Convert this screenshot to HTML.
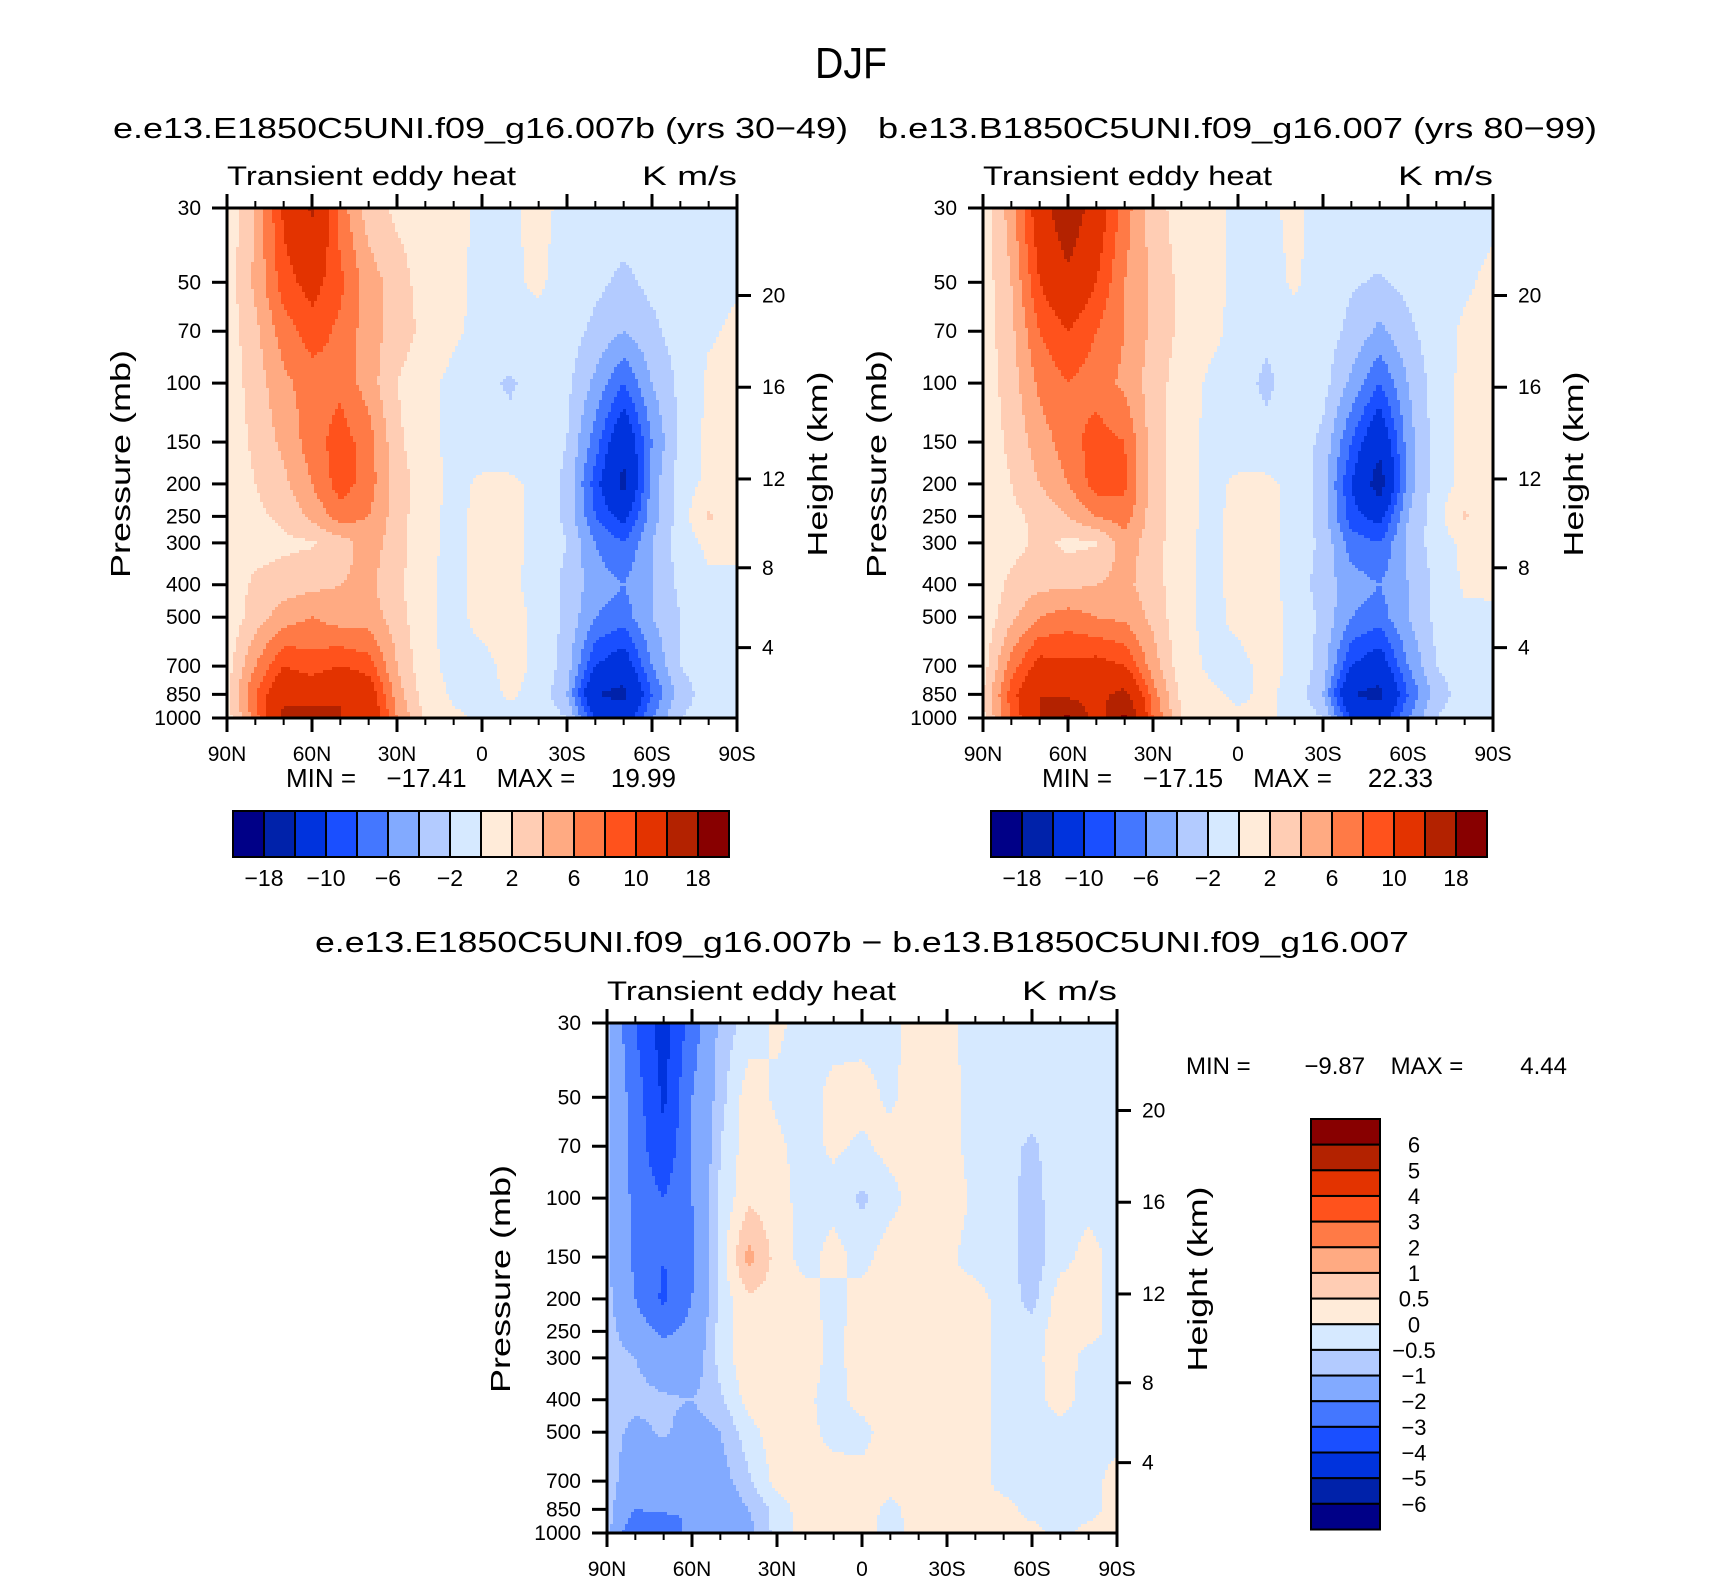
<!DOCTYPE html>
<html><head><meta charset="utf-8"><title>DJF Transient eddy heat</title>
<style>
html,body{margin:0;padding:0;background:#fff;}
svg{display:block;font-family:"Liberation Sans",sans-serif;}
</style></head>
<body>
<svg id="fig" width="1710" height="1581" viewBox="0 0 1710 1581" xmlns="http://www.w3.org/2000/svg">
<rect x="0" y="0" width="1710" height="1581" fill="#fff"/>
<text x="851" y="78" font-size="44" text-anchor="middle" textLength="72" lengthAdjust="spacingAndGlyphs">DJF</text>
<text x="113" y="138" font-size="29" textLength="735" lengthAdjust="spacingAndGlyphs">e.e13.E1850C5UNI.f09_g16.007b (yrs 30−49)</text>
<text x="878" y="138" font-size="29" textLength="719" lengthAdjust="spacingAndGlyphs">b.e13.B1850C5UNI.f09_g16.007 (yrs 80−99)</text>
<text x="315" y="952" font-size="29" textLength="1094" lengthAdjust="spacingAndGlyphs">e.e13.E1850C5UNI.f09_g16.007b − b.e13.B1850C5UNI.f09_g16.007</text>
<g id="panels"></g>
</svg>
<script>
// ---- data ----
const LEV = [30,50,70,100,150,200,250,300,400,500,700,850,1000];
const LATS = [90,80,70,60,50,40,30,20,10,0,-10,-20,-30,-40,-50,-60,-70,-80,-90];
const LAT_LABELS = ["90N","60N","30N","0","30S","60S","90S"];
const LAT_TICKS = [90,60,30,0,-30,-60,-90];
const P_LABELS = [30,50,70,100,150,200,250,300,400,500,700,850,1000];
const Z_LABELS = [4,8,12,16,20];
const COLORS = ["#000087","#0022aa","#0033dd","#1a4fff","#4477ff","#82aaff","#b3cbff","#d6e9ff","#ffebd9","#ffcdb4","#ffaa82","#ff7a46","#ff521c","#e33300","#b32200","#880000"];
const LEVELS_A = [-18,-14,-10,-8,-6,-4,-2,0,2,4,6,8,10,14,18];
const LABELS_A = ["−18","−10","−6","−2","2","6","10","18"];
const LEVELS_D = [-6,-5,-4,-3,-2,-1,-0.5,0,0.5,1,2,3,4,5,6];
const LABELS_D = ["6","5","4","3","2","1","0.5","0","−0.5","−1","−2","−3","−4","−5","−6"];

const VAL1 = [
[0.5,4,10.5,14.5,7,3,1.5,1,0.6,-0.5,-0.3,0.5,-0.5,-0.8,-0.8,-0.8,-0.8,-0.8,-0.8],
[0.8,4.5,9,11,8.5,5,3,1,0.5,-0.5,-0.3,0.3,-0.8,-1.5,-2.5,-1.5,-1,-0.5,-0.2],
[0.8,3.5,7,9,7.5,5,3,1.5,0.3,-0.5,-0.5,-0.6,-1,-2.5,-4,-2.5,-1,-0.2,0.3],
[0.7,3,5.5,7,7.5,5,2,0.5,-0.5,-1.5,-2.3,-1,-1.5,-4.5,-8,-4,-1.5,0.3,0.5],
[0.5,2.5,4.5,7,9,7,2.5,0.5,-0.5,-0.8,-1.2,-0.8,-2,-7,-13,-6,-1.5,0.5,0.5],
[0.4,2,3.5,6,9,7,3,1,-0.5,0.3,0.4,-0.5,-2.5,-9,-15,-5,-1,0.5,0.3],
[0.3,1.5,2.5,4.5,7,6,3,0.5,-0.5,0.5,0.5,-0.5,-2.5,-8,-11,-5,-1,2.3,0.8],
[0.5,1,1.5,1.8,3,5,3,0.5,-0.5,0.5,0.5,-0.5,-2,-6,-8,-4,-1,0.5,0.5],
[0.5,2.5,3,3.5,4,4.5,2.5,0.3,-0.5,0.5,0.5,-0.8,-2.5,-5,-6,-4,-1.5,-0.5,-0.5],
[0.5,3,5,6,5,5,3,0.3,-0.5,0.5,0.8,-0.5,-2.5,-6,-7,-4,-2,-0.8,-0.5],
[1,6,10,9,10,9,4,0.5,-0.5,-0.5,0.5,-0.3,-3,-10,-12,-6,-2,-0.8,-0.5],
[1.5,8,13,12,14,12,5,1,-0.3,-0.5,0.2,-0.5,-4,-14,-15,-8,-3,-1,-0.5],
[1,7,15,16,14,13,6,1.5,0.3,-0.3,-0.5,-0.5,-2,-10,-12,-6,-2,-1,-0.5]
];
const VAL2 = [
[0.8,5,12,17,12,7,3,1,0.6,-0.5,-0.5,0.5,-0.8,-0.8,-0.8,-0.8,-0.8,-0.8,-0.5],
[0.8,4,10,13,10,6,3.5,1.5,0.6,-0.5,-0.8,0.3,-1,-1.8,-2.2,-1.5,-0.8,-0.3,0.5],
[0.8,3.5,8,10,8,6,3.5,1.5,0.5,-0.5,-1.5,-0.8,-1,-2.5,-4.5,-2.5,-0.8,0.3,0.6],
[0.8,3,6.5,8,7,5.5,3,1,-0.3,-1,-2.5,-0.8,-1.2,-4.5,-8,-4,-1,0.5,0.6],
[0.6,2.5,5,7,9,8,3,0.8,-0.5,-0.8,-1.2,-0.8,-2.5,-8,-13,-5,-1,0.5,0.5],
[0.5,2,4,6,9,8.5,3,1,-0.5,0.3,0.4,-0.5,-3,-10,-16,-5,-1,0.5,0.3],
[0.5,1.5,2.5,4,6,7,3,0.8,-0.5,0.5,0.5,-0.5,-3,-9,-11,-4,-0.8,2.3,0.6],
[1,1.2,2.5,1.5,1.8,5,3,0.5,-0.5,0.5,0.5,-0.6,-2.5,-7,-8,-3.5,-1,0.5,0.5],
[0.5,2.5,3.5,3.5,4,4.5,3,0.5,-0.5,0.5,0.7,-0.8,-3,-5,-6,-4,-1.5,0.3,0.3],
[0.5,3.5,6,7,6,5.5,3.5,0.5,-0.5,0.4,0.8,-0.5,-2.5,-6,-7,-4,-1.5,-0.5,-0.3],
[1,7,11,10.5,11,10,5,0.8,-0.3,-0.5,0.5,-0.3,-3,-10,-12,-6,-2,-0.8,-0.3],
[2,9,14,13,13,15,7,1.5,0.3,-0.3,0.3,-0.5,-4,-14,-15,-8,-3,-1,-0.5],
[1.5,8,14,19,12,19,8,2,0.5,0.3,0.3,-0.5,-2,-10,-12,-6,-2,-0.8,-0.3]
];
const VAL3 = [
[-0.8,-3,-4.5,-2.5,-0.8,-0.3,0.1,-0.2,-0.2,-0.2,-0.2,0.3,0.1,-0.2,-0.2,-0.2,-0.2,-0.2,-0.2],
[-0.8,-2.5,-4.2,-2,-0.7,0.3,-0.1,-0.2,0.15,0.2,-0.1,0.3,0.2,-0.2,-0.2,-0.2,-0.2,-0.2,-0.2],
[-0.8,-2.5,-3.8,-2,-0.5,0.3,0.1,-0.2,0.1,-0.1,0.2,0.3,0.2,-0.2,-0.3,-0.6,-0.2,-0.2,-0.2],
[-0.8,-2.3,-3,-2,-0.4,0.4,0.2,-0.2,-0.2,-0.6,-0.2,0.3,0.3,-0.1,-0.3,-0.7,-0.2,-0.2,-0.2],
[-0.8,-2.2,-3,-2.2,-0.3,1.2,0.3,-0.2,0.2,-0.2,0.3,0.3,0.1,-0.2,-0.2,-0.8,-0.2,0.2,-0.2],
[-0.8,-2,-3.2,-2,-0.3,0.4,0.3,0.2,-0.2,0.2,0.3,0.3,0.1,0.2,-0.2,-0.7,0.3,0.2,-0.2],
[-0.7,-1.5,-2.2,-1.7,-0.3,0.3,0.3,0.3,-0.2,0.3,0.3,0.4,0.2,0.3,-0.2,-0.3,0.3,0.2,-0.2],
[-0.7,-1,-1.5,-1.5,-0.3,0.4,0.3,0.3,-0.2,0.3,0.3,0.3,0.2,0.3,-0.2,-0.2,0.3,-0.2,-0.2],
[-0.7,-0.8,-0.9,-1,-0.6,0.2,0.3,0.1,-0.2,0.2,0.3,0.3,0.3,0.3,-0.2,-0.2,0.2,-0.2,-0.2],
[-0.7,-1.2,-0.9,-1.3,-1,-0.2,0.3,0.2,-0.2,-0.2,0.3,0.3,0.3,0.2,-0.2,-0.2,-0.2,-0.2,-0.2],
[-0.7,-1.5,-1.6,-1.8,-1.3,-0.6,0.2,0.3,0.3,0.2,0.3,0.3,0.3,0.2,-0.2,-0.2,-0.2,-0.2,0.2],
[-0.7,-2,-1.8,-2,-1.5,-1,-0.3,0.3,0.2,0.3,-0.2,0.3,0.3,0.2,0.2,-0.2,-0.2,-0.2,0.2],
[-0.7,-3,-3,-1.5,-1.5,-1.2,-0.3,0.2,0.2,0.2,-0.2,0.2,0.3,0.2,0.2,0.2,-0.2,0.2,0.2]
];
const MINMAX1 = ["−17.41","19.99"];
const MINMAX2 = ["−17.15","22.33"];
const MINMAX3 = ["−9.87","4.44"];

// ---- drawing ----
const NS = "http://www.w3.org/2000/svg";
const root = document.getElementById("panels");
const SIZE = 510;
function mk(tag, attrs, parent){
  const e = document.createElementNS(NS, tag);
  for (const k in attrs) e.setAttribute(k, attrs[k]);
  (parent||root).appendChild(e);
  return e;
}
function colorIndex(v, levels){ let i=0; while(i<levels.length && v>=levels[i]) i++; return i; }
function zToP(z){
  if (z <= 11) return 1013.25*Math.pow(1-2.25577e-5*z*1000, 5.25588);
  return 226.32*Math.exp(-(z-11)/6.3416);
}

function makePanel(px, py, vals, levels, id){
  const LN = Math.log(1000/30);
  const yScale = p => py + Math.log(p/30)/LN*SIZE;
  const xScale = lat => px + (90-lat)/180*SIZE;
  const g = mk("g", {});
  
  
  const cells = mk("g", {}, g);
  
  
  const rowY = LEV.map(yScale);
  const colX = LATS.map(xScale);
  const step = 3;
  for (let yy = py; yy < py+SIZE; yy += step){
    const yc = Math.min(yy + step/2, py+SIZE-0.01);
    let i = 0; while (i < LEV.length-2 && yc > rowY[i+1]) i++;
    const t = Math.max(0, Math.min(1, (yc-rowY[i])/(rowY[i+1]-rowY[i])));
    let runStart = px, runColor = null;
    const h = Math.min(step, py+SIZE-yy);
    const flush = (xEnd) => {
      const r = mk("rect", {x: runStart, y: yy, width: xEnd-runStart+0.6, height: h+0.6, fill: COLORS[runColor]}, cells);
      
      
    };
    for (let xx = px; xx < px+SIZE; xx += step){
      const xc = Math.min(xx + step/2, px+SIZE-0.01);
      let j = 0; while (j < LATS.length-2 && xc > colX[j+1]) j++;
      const s = Math.max(0, Math.min(1, (xc-colX[j])/(colX[j+1]-colX[j])));
      const v = (1-t)*((1-s)*vals[i][j] + s*vals[i][j+1]) + t*((1-s)*vals[i+1][j] + s*vals[i+1][j+1]);
      const ci = colorIndex(v, levels);
      if (runColor === null){ runColor = ci; runStart = xx; }
      else if (ci !== runColor){ flush(xx); runColor = ci; runStart = xx; }
    }
    flush(px+SIZE);
  }
  const fr = mk("rect", {x:px, y:py, width:SIZE, height:SIZE, fill:"none", stroke:"#000", "stroke-width":3}, g);
  
  
  for (let lat = 90; lat >= -90; lat -= 10){
    const x = xScale(lat);
    const major = (lat % 30 === 0);
    const L = major ? 14 : 7;
    const tb = mk("line", {x1:x, x2:x, y1:py+SIZE, y2:py+SIZE+L, stroke:"#000", "stroke-width":major?3:2}, g);
    
    
    const tt = mk("line", {x1:x, x2:x, y1:py, y2:py-L, stroke:"#000", "stroke-width":major?3:2}, g);
    
    
  }
  LAT_TICKS.forEach((lat, k) => {
    const tx = mk("text", {x:xScale(lat), y:py+SIZE+43, "font-size":21, "text-anchor":"middle"}, g);
    tx.textContent = LAT_LABELS[k];
    
    
  });
  P_LABELS.forEach(p => {
    const y = yScale(p);
    const l = mk("line", {x1:px-15, x2:px, y1:y, y2:y, stroke:"#000", "stroke-width":3}, g);
    
    
    const tx = mk("text", {x:px-26, y:y+7, "font-size":21, "text-anchor":"end"}, g);
    tx.textContent = String(p);
    
    
  });
  Z_LABELS.forEach(z => {
    const y = yScale(zToP(z));
    const l = mk("line", {x1:px+SIZE, x2:px+SIZE+14, y1:y, y2:y, stroke:"#000", "stroke-width":3}, g);
    
    
    const tx = mk("text", {x:px+SIZE+25, y:y+7, "font-size":21}, g);
    tx.textContent = String(z);
    
    
  });
  const yt = mk("text", {x:0, y:0, "font-size":28, "text-anchor":"middle", transform:`translate(${px-97},${py+256}) rotate(-90)`, textLength:228, lengthAdjust:"spacingAndGlyphs"}, g);
  yt.textContent = "Pressure (mb)";
  
  
  const ht = mk("text", {x:0, y:0, "font-size":28, "text-anchor":"middle", transform:`translate(${px+SIZE+90},${py+256}) rotate(-90)`, textLength:185, lengthAdjust:"spacingAndGlyphs"}, g);
  ht.textContent = "Height (km)";
  
  
  const lt = mk("text", {x:px, y:py-23, "font-size":27, textLength:289, lengthAdjust:"spacingAndGlyphs"}, g);
  lt.textContent = "Transient eddy heat";
  
  
  const rt = mk("text", {x:px+SIZE, y:py-23, "font-size":27, "text-anchor":"end", textLength:95, lengthAdjust:"spacingAndGlyphs"}, g);
  rt.textContent = "K m/s";
  
  
}

function minMax(g, x0, x1, y, fs, mm, id, f1, f2){
  const w = x1 - x0;
  const a = mk("text", {x:x0, y:y, "font-size":fs}, g);
  a.textContent = "MIN =";
  
  
  const b = mk("text", {x:x0+w*f1, y:y, "font-size":fs, "text-anchor":"end"}, g);
  b.textContent = mm[0];
  
  
  const c = mk("text", {x:x0+w*f2, y:y, "font-size":fs}, g);
  c.textContent = "MAX =";
  
  
  const d = mk("text", {x:x1, y:y, "font-size":fs, "text-anchor":"end"}, g);
  d.textContent = mm[1];
  
  
}

function hColorbar(x0, y0, labels, id, mm, mmx, mmw){
  const g = mk("g", {});
  
  
  const w = 31, h = 46;
  COLORS.forEach((c, k) => {
    const r = mk("rect", {x:x0+k*w, y:y0, width:w, height:h, fill:c, stroke:"#000", "stroke-width":2}, g);
    
    
  });
  labels.forEach((lab, k) => {
    const t = mk("text", {x:x0+(2*k+1)*w, y:y0+75, "font-size":23, "text-anchor":"middle"}, g);
    t.textContent = lab;
    
    
  });
  minMax(g, mmx, mmx+mmw, 787, 26, mm, id, 0.463, 0.54);
}

makePanel(227, 208, VAL1, LEVELS_A, "panel1");
makePanel(983, 208, VAL2, LEVELS_A, "panel2");
makePanel(607, 1023, VAL3, LEVELS_D, "panel3");
hColorbar(233, 811, LABELS_A, "panel1", MINMAX1, 286, 390);
hColorbar(991, 811, LABELS_A, "panel2", MINMAX2, 1042, 391);

(function(){
  const g = mk("g", {});
  
  
  const x0 = 1311, y0 = 1119, w = 69, h = 410.5/16;
  for (let k = 0; k < 16; k++){
    const r = mk("rect", {x:x0, y:y0+k*h, width:w, height:h, fill:COLORS[15-k], stroke:"#000", "stroke-width":2}, g);
    
    
  }
  LABELS_D.forEach((lab, k) => {
    const t = mk("text", {x:1414, y:y0+(k+1)*h+8, "font-size":22, "text-anchor":"middle"}, g);
    t.textContent = lab;
    
    
  });
  minMax(g, 1186, 1567, 1074, 24, MINMAX3, 'panel3', 0.47, 0.537);
})();
</script>
</body></html>
